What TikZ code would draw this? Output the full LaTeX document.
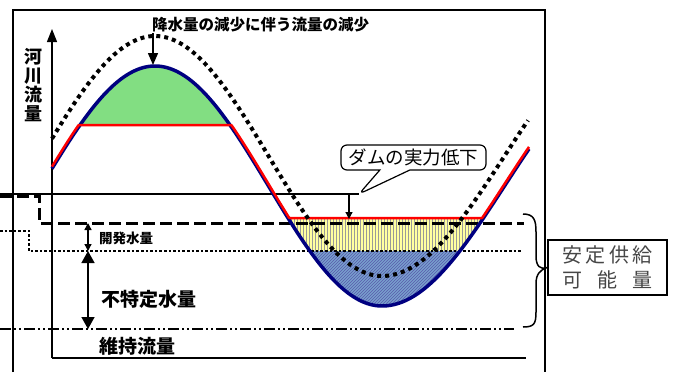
\documentclass[tikz,border=0pt]{standalone}
\usepackage{fontspec}
\newfontfamily\jp{Noto Sans CJK JP}
\usetikzlibrary{arrows.meta,patterns,shapes.callouts}
\definecolor{riverblue}{RGB}{0,0,128}
\definecolor{leafgreen}{RGB}{130,222,130}
\definecolor{paleyellow}{RGB}{255,255,160}
\definecolor{hatchblue}{RGB}{120,160,205}
\definecolor{labelgray}{RGB}{70,70,70}

\begin{document}
\begin{tikzpicture}[x=1pt,y=-1pt,
    declare function={flow(\x)=ifthenelse(\x<382,186-120*cos((\x-155)/227*180),186+120*cos((\x-382)/245*180));},
    frameline/.style={line width=1.3pt,black},
    jpbold/.style={font=\jp\bfseries\fontsize{#1}{#1}\selectfont,inner sep=0pt}]
    \useasboundingbox (0,0) rectangle (682,372);
    % fills
    \fill[leafgreen] plot[domain=80:230,samples=100] (\x,{flow(\x)}) -- cycle;
    \begin{scope}
        \clip plot[domain=288:483.4,samples=120] (\x,{flow(\x)}) -- cycle;
        \fill[paleyellow] (280,218) rectangle (490,251);
        \fill[pattern=vertical lines,pattern color=gray!80] (280,218) rectangle (490,251);
        \fill[hatchblue] (280,251) rectangle (490,320);
        \fill[pattern=north east lines,pattern color=riverblue!65] (280,251) rectangle (490,320);
    \end{scope}
    % frame and axes
    \draw[frameline] (13,372) -- (13,10) -- (545,10) -- (545,372);
    \coordinate (origin) at (52,358);
    \coordinate (yTop) at (52,29);
    \coordinate (xEnd) at (526,358);
    \draw[frameline,-{Triangle[width=10pt,length=13pt]}] (origin) -- (yTop);
    \draw[frameline] (origin) -- (xEnd);
    % levels
    \draw[line width=1.3pt] (0,194) -- (359,194);
    \draw[line width=3pt,dash pattern=on 12pt off 5pt] (0,196) -- (39,196) -- (39,223) -- (524,223);
    \draw[line width=2.8pt,dash pattern=on 2.6pt off 2pt] (0,231) -- (29,231) -- (29,251) -- (521,251);
    \draw[line width=1.4pt,dash pattern=on 11pt off 3pt on 2pt off 3pt on 2pt off 3pt] (0,329) -- (514,329);
    % flow curves
    \draw[riverblue,line width=3.5pt] plot[domain=52:529,samples=240] (\x,{flow(\x)});
    \draw[red,line width=2.5pt,line join=round] plot[domain=52:529,samples=478] (\x,{max(125,min(218,flow(\x)-2))});
    \draw[line width=4pt,dash pattern=on 4pt off 4pt] plot[domain=52:528,samples=240] (\x,{flow(\x)-30});
    % labels
    \node[jpbold=15.5,anchor=west] (rainText) at (152,25) {降水量の減少に伴う流量の減少};
    \coordinate (peakTop) at (153,33);
    \coordinate (peakLow) at (153,65);
    \draw[line width=1.5pt,-{Triangle[width=10pt,length=12pt]}] (peakTop) -- (peakLow);
    \node[jpbold=18,align=center,font=\jp\bfseries\fontsize{18}{19}\selectfont] (axisText) at (33,85) {河\\川\\流\\量};
    \coordinate (tip) at (359,194);
    \node[rectangle callout,draw,line width=1.2pt,rounded corners=6pt,fill=white,
        minimum width=145pt,minimum height=25pt,inner sep=0pt,
        callout pointer width=30pt,callout absolute pointer={(tip)},
        font=\jp\fontsize{18.5}{18.5}\selectfont] (damText) at (413.5,157.5) {ダムの実力低下};
    \coordinate (dropTop) at (349,194);
    \coordinate (dropEnd) at (349,219);
    \draw[line width=1.2pt,-{Triangle[width=7pt,length=7pt]}] (dropTop) -- (dropEnd);
    \coordinate (devTop) at (88,223);
    \coordinate (devBot) at (88,251);
    \coordinate (keepBot) at (88,329);
    \draw[line width=1.3pt,{Triangle[width=7pt,length=7pt]}-{Triangle[width=7pt,length=7pt]}] (devTop) -- (devBot);
    \draw[line width=1.5pt,{Triangle[width=13pt,length=12pt]}-{Triangle[width=13pt,length=12pt]}] (devBot) -- (keepBot);
    \node[jpbold=13.5,anchor=west] (devText) at (99,238) {開発水量};
    \node[jpbold=19,anchor=west] (unspecText) at (101,299.5) {不特定水量};
    \node[jpbold=19,anchor=west] (keepText) at (99,346.5) {維持流量};
    % supply box and brace
    \node[draw,line width=1.6pt,minimum width=119pt,minimum height=55pt,inner sep=0pt,align=center,
        text=labelgray,font=\jp\fontsize{20}{25}\selectfont] (supply) at (607.5,267.5)
        {安\,定\,供\,給\\可\hspace{15pt}能\hspace{15pt}量};
    \draw[line width=1.5pt] (523,214) .. controls (534,214) and (536,220) .. (536,232) -- (536,256)
        .. controls (536,266) and (540,270) .. (supply.west)
        .. controls (540,270) and (536,274) .. (536,284) -- (536,312)
        .. controls (536,324) and (534,327) .. (523,327);
\end{tikzpicture}
\end{document}
